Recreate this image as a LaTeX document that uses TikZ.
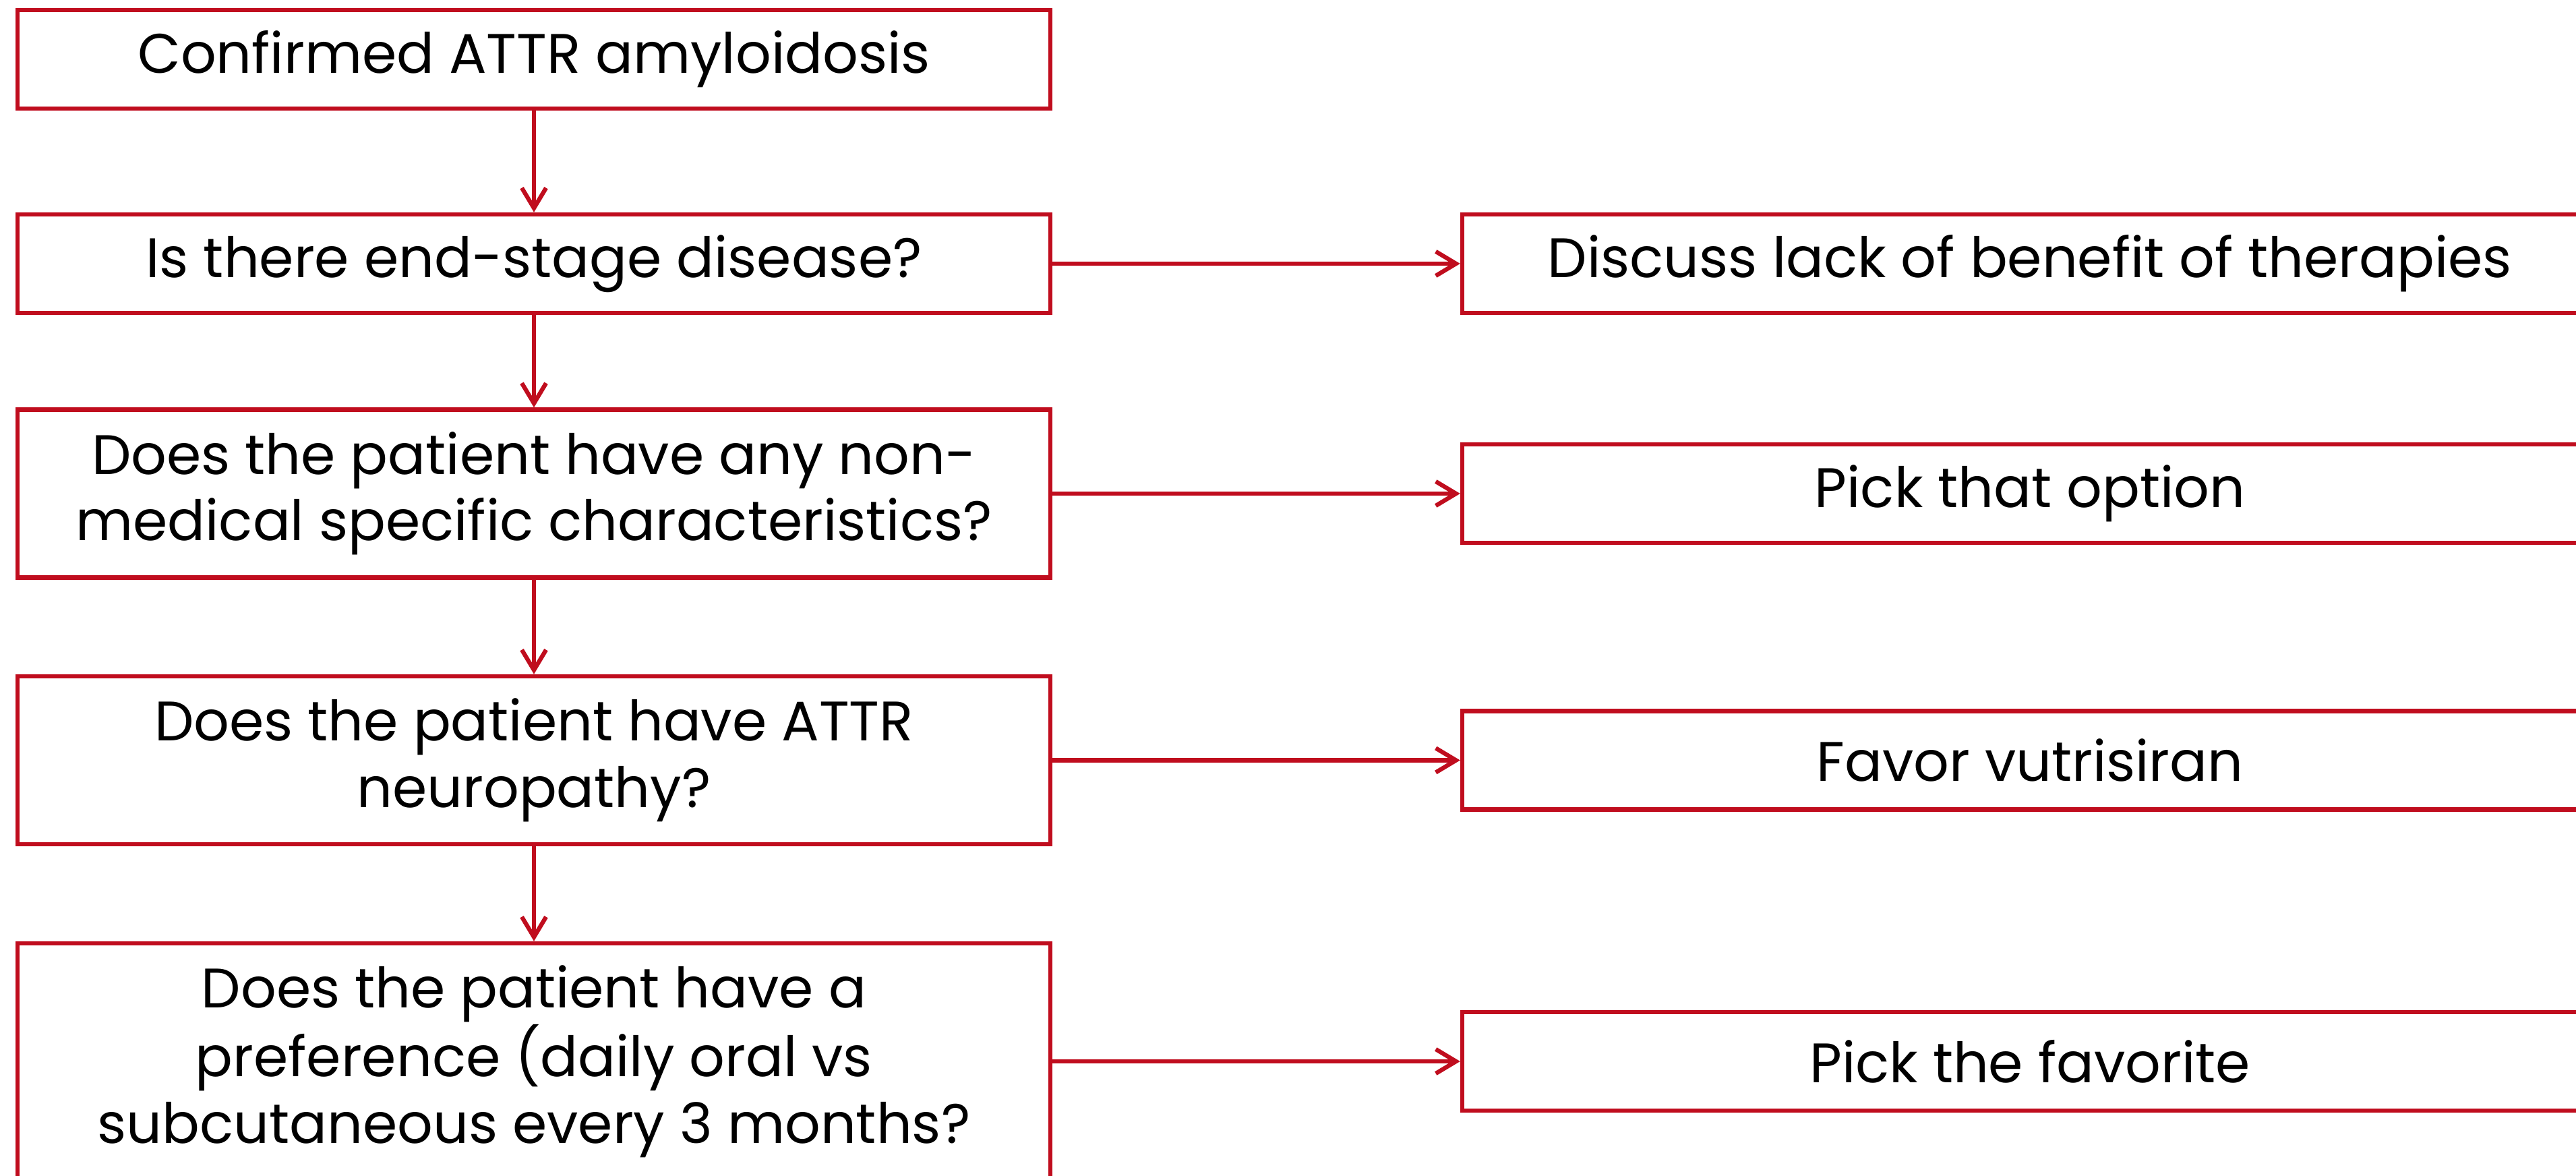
\documentclass[tikz,border=0pt]{standalone}
\usepackage{fontspec}
\setmainfont{Poppins}
\usetikzlibrary{arrows.meta}
\definecolor{boxred}{RGB}{192,13,30}

\begin{document}
\begin{tikzpicture}[
    qbox/.style={draw=boxred, line width=1.8pt, minimum width=15.32cm, align=center, inner sep=0pt, font=\fontsize{23.5}{28}\selectfont},
    abox/.style={qbox, minimum width=16.84cm, minimum height=1.46cm},
    flow/.style={draw=boxred, line width=1.8pt, -{Straight Barb[length=0.3cm, width=0.36cm]}}
]
    % Fix the page size
    \useasboundingbox (0, 0) rectangle (38.21, 17.43);

    % Draw question boxes (left column)
    \node[qbox, minimum height=1.46cm] (confirmed) at (7.92, 16.55) {Confirmed ATTR amyloidosis};
    \node[qbox, minimum height=1.46cm] (endstage) at (7.92, 13.52) {Is there end-stage disease?};
    \node[qbox, minimum height=2.49cm] (nonmedical) at (7.92, 10.11) {Does the patient have any non-\\medical specific characteristics?};
    \node[qbox, minimum height=2.49cm] (neuropathy) at (7.92, 6.155) {Does the patient have ATTR\\neuropathy?};
    \node[qbox, minimum height=3.5cm] (preference) at (7.92, 1.69) {Does the patient have a\\preference (daily oral vs\\subcutaneous every 3 months?};

    % Draw answer boxes (right column, running off the page)
    \node[abox] (nobenefit) at (30.11, 13.52) {Discuss lack of benefit of therapies};
    \node[abox] (pickoption) at (30.11, 10.11) {Pick that option};
    \node[abox] (vutrisiran) at (30.11, 6.155) {Favor vutrisiran};
    \node[abox] (favorite) at (30.11, 1.69) {Pick the favorite};

    % Draw arrows down the left column
    \draw[flow] (confirmed) -- (endstage);
    \draw[flow] (endstage) -- (nonmedical);
    \draw[flow] (nonmedical) -- (neuropathy);
    \draw[flow] (neuropathy) -- (preference);

    % Draw arrows to the right
    \draw[flow] (endstage) -- (nobenefit);
    \draw[flow] (nonmedical) -- (pickoption);
    \draw[flow] (neuropathy) -- (vutrisiran);
    \draw[flow] (preference) -- (favorite);
\end{tikzpicture}
\end{document}
